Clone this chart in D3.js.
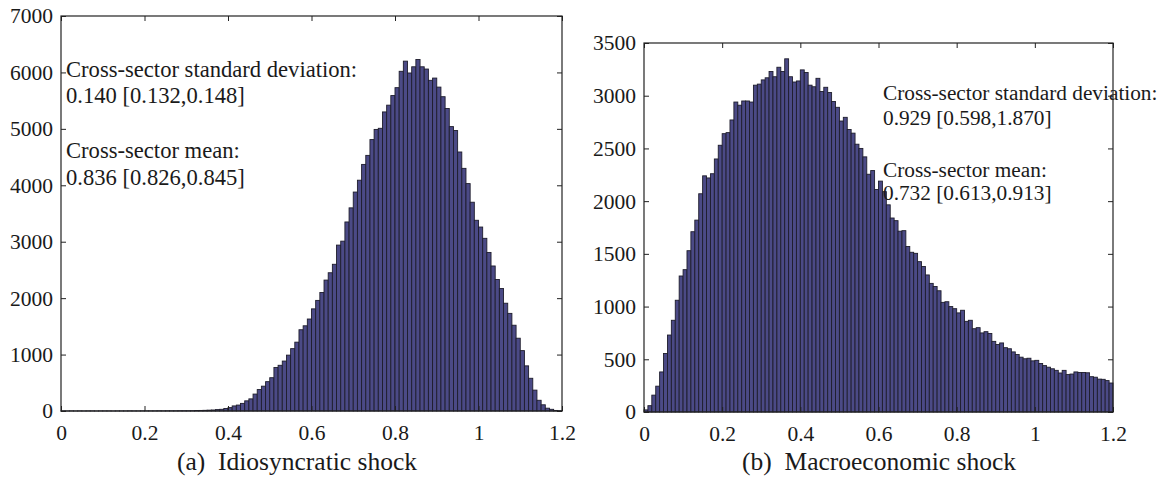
<!DOCTYPE html>
<html>
<head>
<meta charset="utf-8">
<script src="https://cdn.jsdelivr.net/npm/d3@7"></script>
<style>
  html, body { margin: 0; padding: 0; background: #fff; }
  svg { display: block; }
</style>
</head>
<body>
<svg id="chart" width="1165" height="482"></svg>
<script>
// ---------------- data ----------------
const binWidth = 0.01;                 // histogram bin width (120 bins on [0, 1.2])
const xTicks = [0, 0.2, 0.4, 0.6, 0.8, 1, 1.2];
const xTickLabels = ["0", "0.2", "0.4", "0.6", "0.8", "1", "1.2"];

const idioTicks = [0, 1000, 2000, 3000, 4000, 5000, 6000, 7000];
const macroTicks = [0, 500, 1000, 1500, 2000, 2500, 3000, 3500];

// (a) Idiosyncratic shock: counts per bin
const idioCounts = [
  2, 1, 2, 1, 2, 1, 2, 2, 1, 2,
  2, 2, 1, 2, 2, 2, 3, 2, 2, 3,
  3, 3, 3, 4, 3, 4, 4, 4, 5, 5,
  5, 6, 8, 10, 12, 15, 18, 25, 30, 45,
  60, 90, 105, 135, 180, 215, 300, 380, 440, 520,
  590, 770, 810, 885, 990, 1105, 1220, 1440, 1510, 1630,
  1810, 1960, 2100, 2320, 2450, 2600, 2940, 3010, 3350, 3600,
  3880, 4090, 4370, 4530, 4810, 4990, 5010, 5300, 5420, 5590,
  5730, 6020, 6200, 5990, 6100, 6230, 6100, 6060, 5860, 5900,
  5740, 5570, 5360, 5040, 4970, 4590, 4300, 4030, 3700, 3380,
  3260, 3060, 2810, 2570, 2330, 2170, 1910, 1730, 1520, 1290,
  1070, 800, 580, 370, 190, 110, 50, 30, 10, 5
];

// (b) Macroeconomic shock: counts per bin
const macroCounts = [
  20, 60, 160, 245, 380, 555, 730, 870, 1060, 1290,
  1350, 1530, 1710, 1820, 2070, 2240, 2220, 2260, 2400, 2530,
  2640, 2650, 2770, 2940, 2910, 2950, 2950, 2940, 3100, 3110,
  3150, 3170, 3230, 3180, 3270, 3230, 3350, 3180, 3130, 3140,
  3245, 3220, 3100, 3085, 3165, 3040, 3080, 3030, 2945, 2890,
  2760, 2795, 2680, 2645, 2540, 2500, 2420, 2255, 2290, 2110,
  2190, 2090, 1965, 1840, 1815, 1715, 1720, 1570, 1515, 1505,
  1426, 1380, 1300, 1220, 1190, 1150, 1040, 1046, 1000, 980,
  940, 965, 860, 870, 790, 800, 750, 762, 745, 670,
  640, 655, 610, 600, 570, 545, 520, 505, 510, 485,
  490, 460, 440, 425, 410, 395, 370, 395, 355, 360,
  380, 375, 375, 372, 335, 330, 312, 310, 298, 275
];

const idioNotes = [
  "Cross-sector standard deviation:",
  "0.140 [0.132,0.148]",
  "Cross-sector mean:",
  "0.836 [0.826,0.845]"
];
const macroNotes = [
  "Cross-sector standard deviation:",
  "0.929 [0.598,1.870]",
  "Cross-sector mean:",
  "0.732 [0.613,0.913]"
];
const captions = ["(a)  Idiosyncratic shock", "(b)  Macroeconomic shock"];

// ---------------- drawing ----------------
const svg = d3.select("#chart");
const FILL = "#4b4a86";
const EDGE = "#1e1d2c";
const AXIS = "#222";
const SERIF = "'Liberation Serif', 'Times New Roman', serif";

function panel(cfg) {
  const x = d3.scaleLinear().domain([0, 1.2]).range([cfg.left, cfg.right]);
  const y = d3.scaleLinear().domain([0, cfg.yMax]).range([cfg.bottom, cfg.top]);
  const g = svg.append("g");

  // bars
  g.append("g").selectAll("rect")
    .data(cfg.counts)
    .join("rect")
    .attr("x", (d, i) => x(i * binWidth))
    .attr("width", (d, i) => x((i + 1) * binWidth) - x(i * binWidth))
    .attr("y", d => y(d))
    .attr("height", d => y(0) - y(d))
    .attr("fill", FILL)
    .attr("stroke", EDGE)
    .attr("stroke-width", 0.9);

  // annotations
  const notes = g.append("g")
    .attr("font-family", SERIF)
    .attr("font-size", cfg.noteSize)
    .attr("fill", "#1a1a1a");
  cfg.notes.forEach((t, k) => {
    notes.append("text").attr("x", cfg.noteX).attr("y", cfg.noteY[k]).text(t);
  });

  // axes (ticks inside, box)
  const tl = 5;
  const bottomAxis = d3.axisBottom(x).tickValues(xTicks)
    .tickFormat((d, i) => xTickLabels[i]).tickSize(-tl).tickPadding(tl + 9);
  const topAxis = d3.axisTop(x).tickValues(xTicks).tickFormat("").tickSize(-tl);
  const leftAxis = d3.axisLeft(y).tickValues(cfg.yTicks)
    .tickFormat(d3.format("d")).tickSize(-tl).tickPadding(tl + 3);
  const rightAxis = d3.axisRight(y).tickValues(cfg.yTicks).tickFormat("").tickSize(-tl);

  const ax = [
    g.append("g").attr("transform", `translate(0,${cfg.bottom})`).call(bottomAxis),
    g.append("g").attr("transform", `translate(0,${cfg.top})`).call(topAxis),
    g.append("g").attr("transform", `translate(${cfg.left},0)`).call(leftAxis),
    g.append("g").attr("transform", `translate(${cfg.right},0)`).call(rightAxis)
  ];
  ax.forEach(a => {
    a.select(".domain").remove();
    a.selectAll("line").attr("stroke", AXIS).attr("stroke-width", 1);
    a.selectAll("text")
      .attr("font-family", SERIF)
      .attr("font-size", 21.5)
      .attr("fill", "#1a1a1a");
  });

  g.append("rect")
    .attr("x", cfg.left).attr("y", cfg.top)
    .attr("width", cfg.right - cfg.left).attr("height", cfg.bottom - cfg.top)
    .attr("fill", "none").attr("stroke", AXIS).attr("stroke-width", 1.2);

  // caption
  g.append("text")
    .attr("x", cfg.captionX)
    .attr("y", 470)
    .attr("text-anchor", "middle")
    .attr("font-family", SERIF)
    .attr("font-size", 25.5)
    .attr("fill", "#1a1a1a")
    .style("white-space", "pre")
    .text(cfg.caption);
}

panel({
  left: 61, right: 562, top: 16, bottom: 411, yMax: 7000,
  counts: idioCounts, yTicks: idioTicks,
  notes: idioNotes, noteX: 66, noteY: [77, 103, 158, 185], noteSize: 22.6,
  caption: captions[0], captionX: 297
});
panel({
  left: 644, right: 1113, top: 43, bottom: 412, yMax: 3500,
  counts: macroCounts, yTicks: macroTicks,
  notes: macroNotes, noteX: 883, noteY: [100, 125, 177, 200], noteSize: 21.3,
  caption: captions[1], captionX: 879
});
</script>
</body>
</html>
